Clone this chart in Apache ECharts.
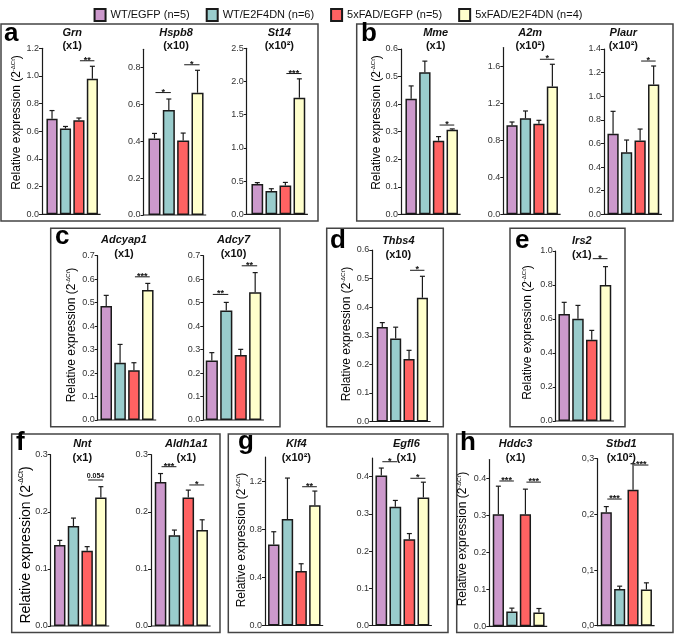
<!DOCTYPE html>
<html><head><meta charset="utf-8">
<script src="https://cdn.jsdelivr.net/npm/echarts@6/dist/echarts.min.js"></script>
<style>html,body{margin:0;padding:0;background:#fff}#c{width:676px;height:634px}</style>
</head><body><div id="c"></div>
<script>
// ---------------- DATA ----------------
const groups = ['WT/EGFP (n=5)', 'WT/E2F4DN (n=6)', '5xFAD/EGFP (n=5)', '5xFAD/E2F4DN (n=4)'];
const genes = ['Grn','Hspb8','St14','Mme','A2m','Plaur','Adcyap1','Adcy7','Thbs4','Irs2','Nnt','Aldh1a1','Klf4','Egfl6','Hddc3','Stbd1'];
const multipliers = ['(x1)','(x10)','(x10²)','(x1)','(x10²)','(x10²)','(x1)','(x10)','(x10)','(x1)','(x1)','(x1)','(x10²)','(x1)','(x1)','(x10²)'];
const panelLetters = ['a','b','c','d','e','f','g','h'];
const yAxisTitle = 'Relative expression (2';
const yAxisTitleSup = '-ΔCt';

const meanGrn = [0.69, 0.62, 0.68, 0.98];        const semGrn = [0.06, 0.015, 0.016, 0.09];
const meanHspb8 = [0.416, 0.57, 0.405, 0.664];   const semHspb8 = [0.027, 0.06, 0.04, 0.122];
const meanSt14 = [0.455, 0.35, 0.435, 1.755];    const semSt14 = [0.022, 0.035, 0.045, 0.285];
const meanMme = [0.419, 0.516, 0.267, 0.307];    const semMme = [0.047, 0.04, 0.015, 0.003];
const meanA2m = [0.96, 1.036, 0.978, 1.378];     const semA2m = [0.036, 0.079, 0.036, 0.241];
const meanPlaur = [0.683, 0.525, 0.624, 1.1];    const semPlaur = [0.189, 0.104, 0.098, 0.156];
const meanAdcyap1 = [0.486, 0.244, 0.212, 0.554];const semAdcyap1 = [0.045, 0.078, 0.032, 0.028];
const meanAdcy7 = [0.254, 0.467, 0.277, 0.544];  const semAdcy7 = [0.033, 0.034, 0.024, 0.084];
const meanThbs4 = [0.331, 0.29, 0.219, 0.433];   const semThbs4 = [0.015, 0.04, 0.03, 0.075];
const meanIrs2 = [0.629, 0.602, 0.478, 0.8];     const semIrs2 = [0.069, 0.078, 0.055, 0.108];
const meanNnt = [0.142, 0.175, 0.132, 0.225];    const semNnt = [0.008, 0.014, 0.007, 0.019];
const meanAldh1a1 = [0.252, 0.159, 0.225, 0.168];const semAldh1a1 = [0.015, 0.009, 0.013, 0.018];
const meanKlf4 = [0.673, 0.884, 0.452, 1.0];     const semKlf4 = [0.106, 0.341, 0.061, 0.117];
const meanEgfl6 = [0.403, 0.319, 0.232, 0.344];  const semEgfl6 = [0.02, 0.017, 0.015, 0.041];
const meanHddc3 = [0.302, 0.040, 0.302, 0.037];  const semHddc3 = [0.076, 0.009, 0.068, 0.011];
const meanStbd1 = [0.204, 0.066, 0.244, 0.065];  const semStbd1 = [0.010, 0.005, 0.047, 0.012];

const axisMax = [1.2, 0.9, 2.5, 0.6, 1.8, 1.4, 0.7, 0.7, 0.6, 1.0, 0.3, 0.3, 1.4, 0.45, 0.45, 0.3];
const ticksGrn = [0, 0.2, 0.4, 0.6, 0.8, 1.0, 1.2];
const ticksHspb8 = [0, 0.2, 0.4, 0.6, 0.8];
const ticksSt14 = [0, 0.5, 1.0, 1.5, 2.0, 2.5];
const ticksMme = [0, 0.1, 0.2, 0.3, 0.4, 0.5, 0.6];
const ticksA2m = [0, 0.4, 0.8, 1.2, 1.6];
const ticksPlaur = [0, 0.2, 0.4, 0.6, 0.8, 1.0, 1.2, 1.4];
const ticksAdcyap1 = [0, 0.1, 0.2, 0.3, 0.4, 0.5, 0.6, 0.7];
const ticksAdcy7 = [0, 0.1, 0.2, 0.3, 0.4, 0.5, 0.6, 0.7];
const ticksThbs4 = [0, 0.1, 0.2, 0.3, 0.4, 0.5, 0.6];
const ticksIrs2 = [0, 0.2, 0.4, 0.6, 0.8, 1.0];
const ticksNnt = [0, 0.1, 0.2, 0.3];
const ticksAldh1a1 = [0, 0.1, 0.2, 0.3];
const ticksKlf4 = [0, 0.4, 0.8, 1.2];
const ticksEgfl6 = [0, 0.1, 0.2, 0.3, 0.4];
const ticksHddc3 = [0, 0.1, 0.2, 0.3, 0.4];
const ticksStbd1 = [0, 0.1, 0.2, 0.3];
const commaDecimal = [false,false,false,false,false,false,false,false,false,false,false,false,false,false,false,true];

// significance: [groupA, groupB, level, label]
const sigGrn = [[2, 3, 1.11, '**']];
const sigHspb8 = [[0, 1, 0.665, '*'], [2, 3, 0.816, '*']];
const sigSt14 = [[2, 3, 2.12, '***']];
const sigMme = [[2, 3, 0.324, '*']];
const sigA2m = [[2, 3, 1.673, '*']];
const sigPlaur = [[2, 3, 1.298, '*']];
const sigAdcyap1 = [[2, 3, 0.61, '***']];
const sigAdcy7 = [[0, 1, 0.535, '**'], [2, 3, 0.657, '**']];
const sigThbs4 = [[2, 3, 0.529, '*']];
const sigIrs2 = [[2, 3, 0.955, '*']];
const sigNnt = [[2, 3, 0.2557, '0.054']];
const sigAldh1a1 = [[0, 1, 0.279, '***'], [2, 3, 0.247, '*']];
const sigKlf4 = [[2, 3, 1.153, '**']];
const sigEgfl6 = [[0, 1, 0.44, '*'], [2, 3, 0.3955, '*']];
const sigHddc3 = [[0, 1, 0.392, '***'], [2, 3, 0.389, '***']];
const sigStbd1 = [[0, 1, 0.2275, '***'], [2, 3, 0.2886, '***']];

// ---------------- LAYOUT / STYLE ----------------
const means = [meanGrn, meanHspb8, meanSt14, meanMme, meanA2m, meanPlaur, meanAdcyap1, meanAdcy7, meanThbs4, meanIrs2, meanNnt, meanAldh1a1, meanKlf4, meanEgfl6, meanHddc3, meanStbd1];
const sems = [semGrn, semHspb8, semSt14, semMme, semA2m, semPlaur, semAdcyap1, semAdcy7, semThbs4, semIrs2, semNnt, semAldh1a1, semKlf4, semEgfl6, semHddc3, semStbd1];
const ticks = [ticksGrn, ticksHspb8, ticksSt14, ticksMme, ticksA2m, ticksPlaur, ticksAdcyap1, ticksAdcy7, ticksThbs4, ticksIrs2, ticksNnt, ticksAldh1a1, ticksKlf4, ticksEgfl6, ticksHddc3, ticksStbd1];
const sigs = [sigGrn, sigHspb8, sigSt14, sigMme, sigA2m, sigPlaur, sigAdcyap1, sigAdcy7, sigThbs4, sigIrs2, sigNnt, sigAldh1a1, sigKlf4, sigEgfl6, sigHddc3, sigStbd1];

const FONT = 'Arial, "Liberation Sans", Helvetica, sans-serif';
const barColors = ['#cc99cc', '#99cccc', '#ff6262', '#ffffcc'];
const INK = '#1a1a1a';
// per chart: axisX, firstBarLeft, lastBarRight, plotTop, plotBottom, titleCenterY, titleDx
const L = [
  [42, 45.7, 98.7, 48.3, 214.3, 32.5, 0],
  [143.5, 147.7, 204.3, 49.3, 215, 32.5, 0],
  [246.7, 250.7, 306, 48.3, 214.3, 32.5, 1],
  [401, 404.7, 458.7, 49, 214.3, 32.5, 4],
  [503.3, 505.7, 558.7, 47.5, 214.3, 32.5, -2],
  [604, 606.7, 660, 49, 214.3, 32.5, -10],
  [97.7, 99.7, 154.3, 255.7, 420, 240, -3],
  [203.3, 205, 262, 255.7, 420, 240, 0],
  [372.3, 376, 428.7, 250, 421.5, 241, -4],
  [555.7, 557.7, 612, 251, 421, 241, -3],
  [50.7, 53.3, 107.3, 454.7, 626, 444, 2],
  [151, 154, 208.7, 454.7, 626, 444, 5],
  [265, 267.3, 321.3, 457, 625.5, 444, 2],
  [372, 374.7, 430, 458, 625.5, 444, 4],
  [489.3, 492, 545.3, 459.5, 626.3, 444, -3],
  [597.3, 600, 652.7, 458.7, 625.7, 444, -5]
];
// panel boxes x,y,w,h and letter positions
const boxes = [
  [1, 24, 317, 197], [356.7, 24, 316.3, 197],
  [50.7, 228.3, 229.3, 198.4], [326.7, 228.3, 116.6, 198.4], [510, 228.3, 115, 198.4],
  [11.7, 434, 208.3, 198.5], [228.3, 434, 219.7, 198.5], [456.7, 434, 216.3, 198.5]
];
const letterPos = [[4, 43], [361, 43], [55, 246], [330, 250], [515, 250], [16, 452], [238, 451], [460, 452]];
// y-axis titles: x center, y center, font size
const yNames = [[17, 122.5, 12], [377, 122.5, 12], [72, 335, 12], [347, 334, 12], [528, 332.5, 12], [26, 545, 14], [242, 540, 12], [463, 539, 12]];

const grid = [], xAxis = [], yAxis = [], series = [], graphic = [];

boxes.forEach(b => graphic.push({
  type: 'rect', z: 0, silent: true,
  shape: { x: b[0], y: b[1], width: b[2], height: b[3] },
  style: { fill: 'none', stroke: '#444', lineWidth: 1.5 }
}));
panelLetters.forEach((t, i) => graphic.push({
  type: 'text', z: 10, silent: true, x: letterPos[i][0], y: letterPos[i][1] - 0.35 * 26,
  style: { text: t, fontSize: 26, fontWeight: 'bold', fontFamily: FONT, fill: '#000', align: 'left', verticalAlign: 'middle' }
}));
yNames.forEach(n => graphic.push({
  type: 'text', z: 10, silent: true, x: n[0], y: n[1], rotation: Math.PI / 2,
  style: {
    text: '{n|' + yAxisTitle + '}{s|' + yAxisTitleSup + '}{n|)}',
    align: 'center', verticalAlign: 'middle', fill: '#000', fontFamily: FONT,
    rich: {
      n: { fontSize: n[2], fontFamily: FONT, lineHeight: n[2] + 2 },
      s: { fontSize: Math.round(n[2] * 0.5), fontFamily: FONT, verticalAlign: 'top', lineHeight: n[2] + 2 }
    }
  }
}));

genes.forEach((gene, k) => {
  const [ax, bl, br, top, bot, ty, tdx] = L[k];
  const w = br - bl + 0.8, p = w / 4, gl = bl - 0.4;
  const comma = commaDecimal[k];
  grid.push({ left: gl, top: top, width: w, height: bot - top });
  xAxis.push({ type: 'category', gridIndex: k, data: groups, show: false });
  yAxis.push({
    type: 'value', gridIndex: k, min: 0, max: axisMax[k], offset: gl - ax,
    axisLine: { show: true, lineStyle: { color: INK, width: 1.2 } },
    axisTick: { show: true, length: 3, customValues: ticks[k], lineStyle: { color: INK, width: 1 } },
    axisLabel: {
      customValues: ticks[k], fontSize: 9, color: '#333', margin: 3, fontFamily: FONT,
      formatter: v => { const s = Number(v).toFixed(1); return comma ? s.replace('.', ',') : s; }
    },
    splitLine: { show: false }
  });
  groups.forEach((gname, gi) => series.push({
    type: 'bar', name: gname, xAxisIndex: k, yAxisIndex: k, barWidth: p - 2.3, barGap: '-100%',
    data: means[k].map((v, i) => i === gi ? v : '-'),
    itemStyle: { color: barColors[gi], borderColor: INK, borderWidth: 1.5 },
    silent: true, z: 2
  }));
  // baseline (x axis line) from the y axis to past the last bar
  series.push({
    type: 'custom', xAxisIndex: k, yAxisIndex: k, silent: true, z: 4,
    data: [[0, 0]], encode: { x: 0, y: 1 },
    renderItem: (params, api) => {
      const cs = params.coordSys;
      const y = api.coord([0, 0])[1];
      return { type: 'line', shape: { x1: ax, y1: y, x2: cs.x + cs.width + 1.5, y2: y }, style: { stroke: INK, lineWidth: 1.2 } };
    }
  });
  // error bars
  series.push({
    type: 'custom', xAxisIndex: k, yAxisIndex: k, silent: true, z: 3,
    data: means[k].map((m, i) => [i, m, sems[k][i]]), encode: { x: 0, y: 1 },
    renderItem: (params, api) => {
      const b = api.coord([api.value(0), api.value(1)]);
      const t = api.coord([api.value(0), api.value(1) + api.value(2)]);
      const st = { stroke: INK, lineWidth: 1.2 };
      return { type: 'group', children: [
        { type: 'line', shape: { x1: b[0], y1: b[1], x2: t[0], y2: t[1] }, style: st },
        { type: 'line', shape: { x1: t[0] - 2.5, y1: t[1], x2: t[0] + 2.5, y2: t[1] }, style: st }
      ] };
    }
  });
  // significance marks
  series.push({
    type: 'custom', xAxisIndex: k, yAxisIndex: k, silent: true, z: 5,
    data: sigs[k].map(s => [s[0], s[1], s[2]]), encode: { x: 0, y: 2 },
    renderItem: (params, api) => {
      const s = sigs[k][params.dataIndex];
      const a = api.coord([api.value(0), api.value(2)]);
      const b = api.coord([api.value(1), api.value(2)]);
      const isNum = /\d/.test(s[3]);
      const x1 = a[0] + 1, x2 = b[0] + 2;
      return { type: 'group', children: [
        { type: 'line', shape: { x1: x1, y1: a[1], x2: x2, y2: b[1] }, style: { stroke: INK, lineWidth: 1 } },
        { type: 'text', x: (x1 + x2) / 2, y: isNum ? a[1] - 4 : a[1] - 0.5,
          style: { text: s[3], fontSize: isNum ? 7 : 9, fontWeight: 'bold', fontFamily: FONT, fill: '#111', align: 'center', verticalAlign: 'middle' } }
      ] };
    }
  });
  graphic.push({
    type: 'text', z: 10, silent: true, x: gl + w / 2 + tdx, y: ty - 6.75,
    style: {
      text: '{g|' + gene + '}\n{m|' + multipliers[k] + '}', align: 'center', verticalAlign: 'top', fill: '#111', fontFamily: FONT,
      rich: {
        g: { fontSize: 11, fontWeight: 'bold', fontStyle: 'italic', fontFamily: FONT, lineHeight: 13.5 },
        m: { fontSize: 11, fontWeight: 'bold', fontFamily: FONT, lineHeight: 13.5 }
      }
    }
  });
});

const chart = echarts.init(document.getElementById('c'), null, { renderer: 'canvas', width: 676, height: 634 });
chart.setOption({
  animation: false,
  backgroundColor: '#fff',
  legend: {
    data: groups, top: 3, left: 'center', itemWidth: 11, itemHeight: 12, itemGap: 16,
    selectedMode: false, icon: 'rect',
    textStyle: { fontSize: 11, color: '#111', fontFamily: FONT }
  },
  grid, xAxis, yAxis, series, graphic
});
</script>
</body></html>
